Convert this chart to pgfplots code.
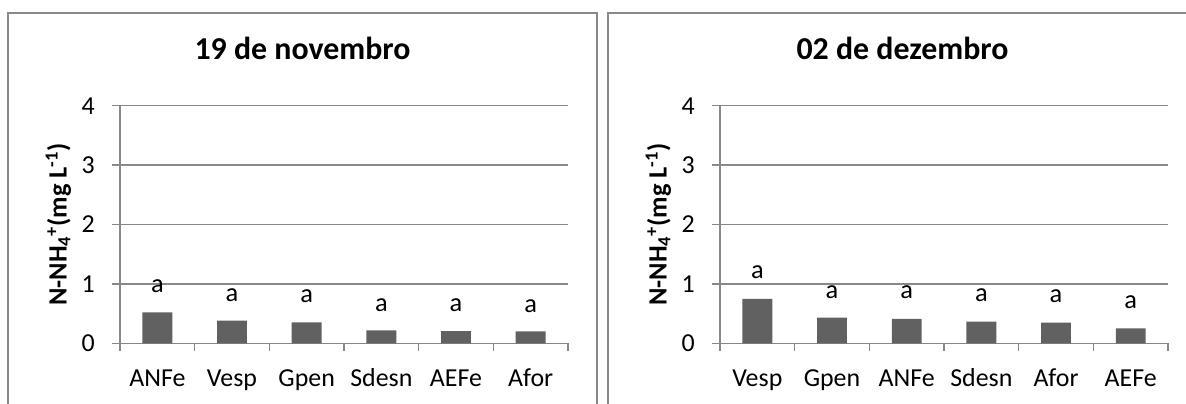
\documentclass[border=0pt]{standalone}
\usepackage{fontspec}
\setmainfont{Carlito}
\usepackage{pgfplots}
\pgfplotsset{compat=1.18}
\definecolor{bargray}{HTML}{616161}
\definecolor{axgray}{HTML}{888888}
\tikzset{alab/.style={font=\fontsize{26.5}{31}\selectfont, anchor=center, inner sep=0pt}}
\pgfplotsset{
  panel/.style={
    at={(#1,59.7bp)}, anchor=south west,
    scale only axis, width=448bp, height=237.6bp,
    xmin=-0.5, xmax=5.5, ymin=0, ymax=4,
    axis x line*=bottom, axis y line*=left,
    axis line style={draw=axgray, line width=1.5bp, -},
    ytick={0,1,2,3,4}, ymajorgrids,
    grid style={draw=axgray, line width=1.5bp},
    xtick={0,...,5}, minor xtick={-0.5,0.5,...,5.5},
    tick align=outside, major tick length=8bp, minor tick length=8bp,
    tick style={draw=axgray, line width=1.5bp},
    major x tick style={draw=none},
    /pgf/number format/assume math mode=true,
    yticklabel style={font=\fontsize{26}{31}\selectfont, anchor=east, inner sep=0pt, xshift=-17bp},
    xticklabel style={font=\fontsize{26}{31}\selectfont, anchor=base, inner sep=0pt, yshift=-34.7bp},
    ylabel={N-NH\textsubscript{4}\textsuperscript{+}(mg L\textsuperscript{-1})},
    ylabel style={font=\fontsize{26.5}{31}\selectfont\bfseries, at={(axis description cs:-0.119,0.5)}, anchor=base, inner sep=0pt},
    title style={font=\fontsize{32}{38}\selectfont\bfseries, at={(axis description cs:0.4074,1.1713)}, anchor=base, inner sep=0pt},
  },
}
\begin{document}
\begin{tikzpicture}[x=1bp,y=1bp]
\clip (0,0) rectangle (1186,403);
\useasboundingbox (0,0) rectangle (1186,403);
\draw[axgray, line width=2bp] (8,-10) -- (8,390) -- (597,390) -- (597,-10);
\draw[axgray, line width=2bp] (608,-10) -- (608,390) -- (1200,390);
\begin{axis}[panel=120bp, title={19 de novembro},
  xticklabels={ANFe,Vesp,Gpen,Sdesn,AEFe,Afor}]
\addplot[ybar, bar width=0.4, fill=bargray, draw=none]
  coordinates {(0,0.52) (1,0.383) (2,0.354) (3,0.217) (4,0.206) (5,0.20)};
\node[alab] at (axis cs:0,0.96) {a};
\node[alab] at (axis cs:1,0.817) {a};
\node[alab] at (axis cs:2,0.79) {a};
\node[alab] at (axis cs:3,0.646) {a};
\node[alab] at (axis cs:4,0.646) {a};
\node[alab] at (axis cs:5,0.63) {a};
\end{axis}
\begin{axis}[panel=720bp, title={02 de dezembro},
  xticklabels={Vesp,Gpen,ANFe,Sdesn,Afor,AEFe}]
\addplot[ybar, bar width=0.4, fill=bargray, draw=none]
  coordinates {(0,0.749) (1,0.434) (2,0.411) (3,0.366) (4,0.349) (5,0.251)};
\node[alab] at (axis cs:0,1.19) {a};
\node[alab] at (axis cs:1,0.86) {a};
\node[alab] at (axis cs:2,0.86) {a};
\node[alab] at (axis cs:3,0.806) {a};
\node[alab] at (axis cs:4,0.79) {a};
\node[alab] at (axis cs:5,0.69) {a};
\end{axis}
\end{tikzpicture}
\end{document}
